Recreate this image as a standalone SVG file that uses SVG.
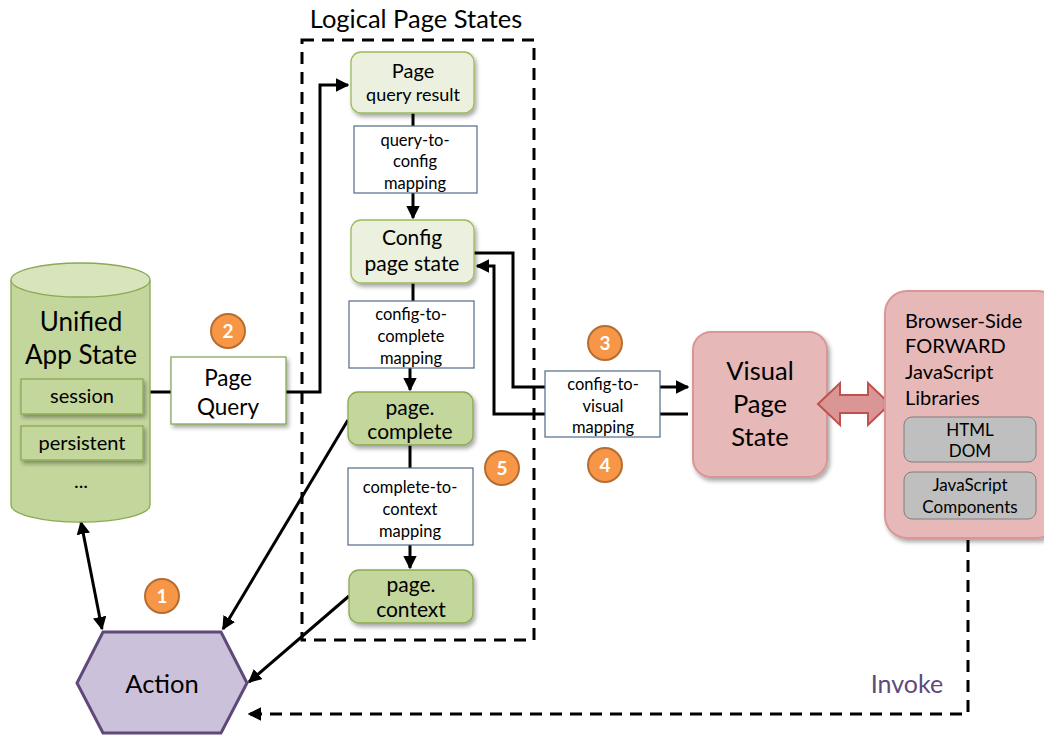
<svg xmlns="http://www.w3.org/2000/svg" width="1044" height="738" viewBox="0 0 1044 738">
<style>
text{font-family:Lato,"Liberation Sans",sans-serif;fill:#000;text-anchor:middle}
.lg{fill:#ebf1de;stroke:#9bbb59;stroke-width:1.3}
.dg{fill:#c3d69b;stroke:#8aa952;stroke-width:1.3}
.map{fill:#fff;stroke:#4f6b8a;stroke-width:1.2}
.map-t{font-size:16.5px}
.ln{fill:none;stroke:#000;stroke-width:3}
.dash{fill:none;stroke:#000;stroke-width:3;stroke-dasharray:12,8}
.badge circle{fill:#f79646;stroke:#b66d31;stroke-width:2}
.badge text{fill:#fff;font-weight:bold;font-size:19px}
.gray{fill:#bfbfbf;stroke:#7f7f7f;stroke-width:1}
</style>
<defs>
<marker id="ah" viewBox="0 0 10 10" refX="9" refY="5" markerWidth="4.5" markerHeight="4.5" orient="auto-start-reverse" markerUnits="strokeWidth"><path d="M0,0 L10,5 L0,10 z" fill="#000"/></marker>
<filter id="sh" x="-10%" y="-10%" width="130%" height="130%"><feDropShadow dx="2" dy="3" stdDeviation="2" flood-color="#000" flood-opacity="0.35"/></filter>
</defs>

<text x="416" y="28" font-size="25.5">Logical Page States</text>
<rect x="302" y="40" width="232" height="600" class="dash" stroke-width="2.5"/>

<g id="connectors">
<path class="ln" d="M150,392 H171"/>
<path class="ln" d="M286,392 H320 V85 H348" marker-end="url(#ah)"/>
<path class="ln" d="M413,113 V126"/>
<path class="ln" d="M413,193 V218" marker-end="url(#ah)"/>
<path class="ln" d="M413,283 V301"/>
<path class="ln" d="M410,368 V390" marker-end="url(#ah)"/>
<path class="ln" d="M410,445 V468"/>
<path class="ln" d="M410,545 V568" marker-end="url(#ah)"/>
<path class="ln" d="M474,253 H513 V387 H545"/>
<path class="ln" d="M660,387 H688" marker-end="url(#ah)"/>
<path class="ln" d="M688,414 H660"/>
<path class="ln" d="M545,414 H494 V266 H477" marker-end="url(#ah)"/>
<path class="ln" d="M81,522 L102,629" marker-start="url(#ah)" marker-end="url(#ah)"/>
<path class="ln" d="M348,420 L223,629" marker-end="url(#ah)"/>
<path class="ln" d="M349,596 L249,682" marker-end="url(#ah)"/>
<path class="dash" d="M968,540 V714 H249" marker-end="url(#ah)"/>
</g>

<g id="unified-app-state">
<path d="M11,280 V505 A69,17 0 0 0 150,505 V280" fill="#c3d69b" stroke="#8aa952" stroke-width="1.3"/>
<ellipse cx="80.5" cy="280" rx="69.5" ry="17" fill="#d7e4bc" stroke="#8aa952" stroke-width="1.3"/>
<text x="81" y="331" font-size="26">Unified</text>
<text x="81" y="364" font-size="26">App State</text>
<rect x="21" y="379" width="122" height="35" class="dg" filter="url(#sh)"/>
<text x="82" y="403" font-size="20">session</text>
<rect x="21" y="426" width="122" height="34" class="dg" filter="url(#sh)"/>
<text x="82" y="450" font-size="20">persistent</text>
<text x="81" y="488" font-size="20">...</text>
</g>

<g id="page-query">
<rect x="171" y="357" width="115" height="67" fill="#fff" stroke="#7f9f4f" stroke-width="1.2" filter="url(#sh)"/>
<text x="228" y="386" font-size="22.5">Page</text>
<text x="228" y="415" font-size="22.5">Query</text>
</g>

<g id="page-query-result">
<rect x="351" y="52" width="123" height="61" rx="10" class="lg" filter="url(#sh)"/>
<text x="413" y="78" font-size="20">Page</text>
<text x="413" y="101" font-size="18">query result</text>
</g>
<g id="query-to-config">
<rect x="354" y="126" width="123" height="67" class="map"/>
<text x="415" y="146" class="map-t">query-to-</text>
<text x="415" y="167" class="map-t">config</text>
<text x="415" y="189" class="map-t">mapping</text>
</g>
<g id="config-page-state">
<rect x="351" y="220" width="123" height="63" rx="10" class="lg" filter="url(#sh)"/>
<text x="412" y="245" font-size="21">Config</text>
<text x="412" y="271" font-size="21">page state</text>
</g>
<g id="config-to-complete">
<rect x="349" y="301" width="125" height="67" class="map"/>
<text x="411" y="320" class="map-t">config-to-</text>
<text x="411" y="342" class="map-t">complete</text>
<text x="411" y="364" class="map-t">mapping</text>
</g>
<g id="page-complete">
<rect x="348" y="392" width="125" height="53" rx="10" class="dg" filter="url(#sh)"/>
<text x="410" y="415" font-size="21">page.</text>
<text x="410" y="439" font-size="21">complete</text>
</g>
<g id="complete-to-context">
<rect x="348" y="468" width="125" height="77" class="map"/>
<text x="410" y="493" class="map-t">complete-to-</text>
<text x="410" y="515" class="map-t">context</text>
<text x="410" y="537" class="map-t">mapping</text>
</g>
<g id="page-context">
<rect x="349" y="570" width="124" height="53" rx="10" class="dg" filter="url(#sh)"/>
<text x="411" y="592" font-size="21">page.</text>
<text x="411" y="617" font-size="21">context</text>
</g>

<g id="config-to-visual">
<rect x="545" y="371" width="115" height="66" class="map"/>
<text x="603" y="390" class="map-t">config-to-</text>
<text x="603" y="412" class="map-t">visual</text>
<text x="603" y="433" class="map-t">mapping</text>
</g>

<g id="visual-page-state">
<rect x="693" y="332" width="134" height="145" rx="18" fill="#e6b9b8" stroke="#d99694" stroke-width="2" filter="url(#sh)"/>
<text x="760" y="380" font-size="25.5">Visual</text>
<text x="760" y="413" font-size="25.5">Page</text>
<text x="760" y="446" font-size="25.5">State</text>
</g>

<g id="bidirectional-arrow">
<path d="M818,404 L840,383 V395 H868 V383 L890,404 L868,425 V413 H840 V425 Z" fill="#d99694" stroke="#c0504d" stroke-width="2"/>
</g>

<g id="browser-libraries">
<rect x="885" y="291" width="175" height="247" rx="22" fill="#e6b9b8" stroke="#d99694" stroke-width="2" filter="url(#sh)"/>
<text x="905" y="328" font-size="20" style="text-anchor:start">Browser-Side</text>
<text x="905" y="353" font-size="20" style="text-anchor:start">FORWARD</text>
<text x="905" y="379" font-size="20" style="text-anchor:start">JavaScript</text>
<text x="905" y="405" font-size="20" style="text-anchor:start">Libraries</text>
<rect x="904" y="417" width="132" height="45" rx="8" class="gray"/>
<text x="970" y="436" font-size="17">HTML</text>
<text x="970" y="457" font-size="17">DOM</text>
<rect x="904" y="472" width="132" height="47" rx="8" class="gray"/>
<text x="970" y="491" font-size="17">JavaScript</text>
<text x="970" y="513" font-size="17">Components</text>
</g>

<g id="action">
<polygon points="103,632 221,632 247,683 221,733 103,733 77,683" fill="#ccc1da" stroke="#5f497a" stroke-width="3"/>
<text x="162" y="693" font-size="25.5">Action</text>
</g>

<text x="907" y="693" font-size="25" style="fill:#604a7b">Invoke</text>

<g class="badge" id="badge-1"><circle cx="162" cy="596" r="17"/><text x="162" y="603">1</text></g>
<g class="badge" id="badge-2"><circle cx="228" cy="331" r="17"/><text x="228" y="338">2</text></g>
<g class="badge" id="badge-3"><circle cx="605" cy="343" r="17"/><text x="605" y="350">3</text></g>
<g class="badge" id="badge-4"><circle cx="605" cy="465" r="17"/><text x="605" y="472">4</text></g>
<g class="badge" id="badge-5"><circle cx="502" cy="468" r="17"/><text x="502" y="475">5</text></g>
</svg>
